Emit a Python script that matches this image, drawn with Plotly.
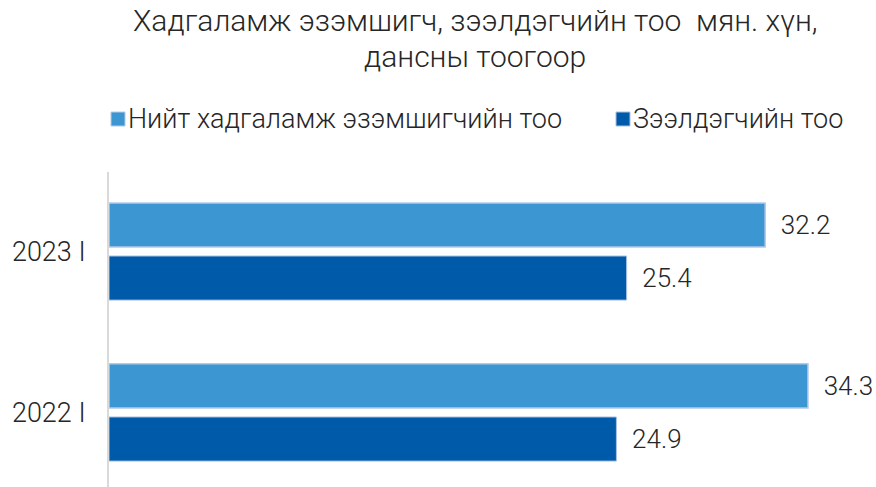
import plotly.graph_objects as go

categories = ["2022 I", "2023 I"]
series_names = ["Нийт хадгаламж эзэмшигчийн тоо", "Зээлдэгчийн тоо"]
total_savers = [34.3, 32.2]
borrowers = [24.9, 25.4]
title_lines = ["Хадгаламж эзэмшигч, зээлдэгчийн тоо  мян. хүн,", "дансны тоогоор"]

LIGHT = "#3C96D2"
DARK = "#005AAA"
FONT = "Roboto"
TXT = "#262626"
T = 172  # top margin
H = 487
W = 876
L = 109
PW = 754
PH = H - T


def px_x(px):
    return (px - L) / PW


def px_y(py):
    return 1 + (T - py) / PH


fig = go.Figure()
# dark trace first so it sits below the light bar within each group
fig.add_trace(go.Bar(
    y=categories, x=borrowers, name=series_names[1], orientation="h",
    marker=dict(color=DARK, line=dict(color="#A9C1E4", width=1)),
    texttemplate="\u00a0\u00a0%{x:.1f}", textposition="outside",
    textfont=dict(family=FONT, size=26, color=TXT, weight=300),
    cliponaxis=False,
))
fig.add_trace(go.Bar(
    y=categories, x=total_savers, name=series_names[0], orientation="h",
    marker=dict(color=LIGHT, line=dict(color="#B4C9EA", width=1.5)),
    texttemplate="\u00a0\u00a0%{x:.1f}", textposition="outside",
    textfont=dict(family=FONT, size=26, color=TXT, weight=300),
    cliponaxis=False,
))

# title (two lines, tighter spacing than plotly's default)
for line, top in zip(title_lines, [1, 37]):
    fig.add_annotation(
        text=line, showarrow=False, xref="paper", yref="paper",
        x=px_x(475), xanchor="center", y=px_y(top), yanchor="top",
        font=dict(family=FONT, size=30, color=TXT, weight=300),
    )

# legend drawn by hand so the two entries sit on one row as in the reference
legend_items = [
    (series_names[0], LIGHT, "#B4C9EA", 111),
    (series_names[1], DARK, "#A9C1E4", 616),
]
for name, color, edge, x0 in legend_items:
    fig.add_shape(type="rect", xref="paper", yref="paper",
                  x0=px_x(x0), x1=px_x(x0 + 14), y0=px_y(126), y1=px_y(112),
                  fillcolor=color, line=dict(color=edge, width=1))
    fig.add_annotation(
        text=name, showarrow=False, xref="paper", yref="paper",
        x=px_x(x0 + 15), xanchor="left", y=px_y(119), yanchor="middle",
        font=dict(family=FONT, size=27, color=TXT, weight=300),
    )

fig.update_layout(
    width=W, height=H,
    margin=dict(l=L, r=W - L - PW, t=T, b=0, autoexpand=False),
    paper_bgcolor="white", plot_bgcolor="white",
    barmode="group", bargap=0.34, bargroupgap=0.17,
    showlegend=False,
)
fig.update_xaxes(range=[0, 37], visible=False)
fig.update_yaxes(range=[-0.463, 1.494], showline=True, linecolor="#D9D9D9",
                 linewidth=2, showgrid=False, ticks="", ticklabelstandoff=16,
                 automargin=False,
                 tickfont=dict(family=FONT, size=27, color=TXT, weight=300))

fig.write_html("out.html", config={"displayModeBar": False},
               post_script="document.body.style.margin='0';")
